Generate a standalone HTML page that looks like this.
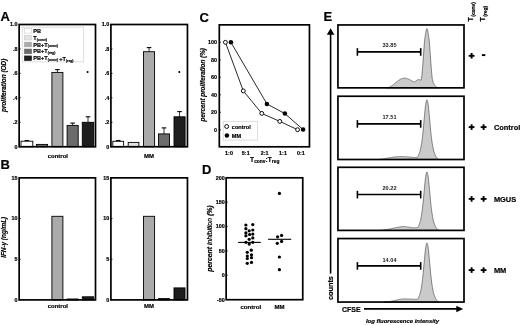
<!DOCTYPE html>
<html><head><meta charset="utf-8"><style>
html,body{margin:0;padding:0;background:#fff;}
svg{display:block;filter:grayscale(1);}
text{font-family:"Liberation Sans",sans-serif;stroke:#000;stroke-width:0.18px;}
</style></head><body>
<svg width="520" height="325" viewBox="0 0 520 325">
<rect width="520" height="325" fill="#fff"/>
<text x="0.5" y="20.5" font-size="13" font-weight="bold" font-style="normal" text-anchor="start" fill="#000" stroke="#000" stroke-width="0.25">A</text>
<text x="0.5" y="169.3" font-size="13" font-weight="bold" font-style="normal" text-anchor="start" fill="#000" stroke="#000" stroke-width="0.25">B</text>
<text x="199.6" y="22.1" font-size="13" font-weight="bold" font-style="normal" text-anchor="start" fill="#000" stroke="#000" stroke-width="0.25">C</text>
<text x="201.9" y="173.6" font-size="13" font-weight="bold" font-style="normal" text-anchor="start" fill="#000" stroke="#000" stroke-width="0.25">D</text>
<text x="323.6" y="20.8" font-size="13" font-weight="bold" font-style="normal" text-anchor="start" fill="#000" stroke="#000" stroke-width="0.25">E</text>
<line x1="26.9" y1="140.6" x2="26.9" y2="141.2" stroke="#333" stroke-width="1.0"/>
<line x1="24.599999999999998" y1="140.6" x2="29.2" y2="140.6" stroke="#000" stroke-width="1.1"/>
<rect x="21.00" y="141.20" width="11.80" height="5.55" fill="#ffffff" stroke="#000" stroke-width="0.9"/>
<rect x="36.40" y="144.40" width="11.20" height="2.35" fill="#707070" stroke="#000" stroke-width="0.9"/>
<line x1="57.4" y1="69.6" x2="57.4" y2="72.4" stroke="#333" stroke-width="1.0"/>
<line x1="55.1" y1="69.6" x2="59.699999999999996" y2="69.6" stroke="#000" stroke-width="1.1"/>
<rect x="51.90" y="72.40" width="11.00" height="74.35" fill="#aaaaaa" stroke="#000" stroke-width="0.9"/>
<line x1="72.65" y1="123.1" x2="72.65" y2="125.4" stroke="#333" stroke-width="1.0"/>
<line x1="70.35000000000001" y1="123.1" x2="74.95" y2="123.1" stroke="#000" stroke-width="1.1"/>
<rect x="67.10" y="125.40" width="11.10" height="21.35" fill="#6c6c6c" stroke="#000" stroke-width="0.9"/>
<line x1="88.0" y1="116.8" x2="88.0" y2="122.3" stroke="#333" stroke-width="1.0"/>
<line x1="85.7" y1="116.8" x2="90.3" y2="116.8" stroke="#000" stroke-width="1.1"/>
<rect x="82.30" y="122.30" width="11.40" height="24.45" fill="#1e1e1e" stroke="#000" stroke-width="0.9"/>
<rect x="19.15" y="24.50" width="76.35" height="122.25" fill="none" stroke="#000" stroke-width="1.7"/>
<line x1="19.15" y1="24.5" x2="20.75" y2="24.5" stroke="#000" stroke-width="0.8"/>
<text x="17.45" y="26.4332" font-size="5.4" font-weight="bold" font-style="normal" text-anchor="end" fill="#000" >1.0</text>
<line x1="19.15" y1="48.95" x2="20.75" y2="48.95" stroke="#000" stroke-width="0.8"/>
<text x="17.45" y="50.8832" font-size="5.4" font-weight="bold" font-style="normal" text-anchor="end" fill="#000" >.8</text>
<line x1="19.15" y1="73.4" x2="20.75" y2="73.4" stroke="#000" stroke-width="0.8"/>
<text x="17.45" y="75.3332" font-size="5.4" font-weight="bold" font-style="normal" text-anchor="end" fill="#000" >.6</text>
<line x1="19.15" y1="97.85" x2="20.75" y2="97.85" stroke="#000" stroke-width="0.8"/>
<text x="17.45" y="99.7832" font-size="5.4" font-weight="bold" font-style="normal" text-anchor="end" fill="#000" >.4</text>
<line x1="19.15" y1="122.3" x2="20.75" y2="122.3" stroke="#000" stroke-width="0.8"/>
<text x="17.45" y="124.2332" font-size="5.4" font-weight="bold" font-style="normal" text-anchor="end" fill="#000" >.2</text>
<line x1="19.15" y1="146.75" x2="20.75" y2="146.75" stroke="#000" stroke-width="0.8"/>
<text x="17.45" y="148.6832" font-size="5.4" font-weight="bold" font-style="normal" text-anchor="end" fill="#000" >0</text>
<text x="57.825" y="157.8" font-size="6.0" font-weight="bold" font-style="normal" text-anchor="middle" fill="#000" >control</text>
<circle cx="87.6" cy="72.0" r="1.05" fill="#000"/>
<line x1="118.19999999999999" y1="140.5" x2="118.19999999999999" y2="141.3" stroke="#333" stroke-width="1.0"/>
<line x1="115.89999999999999" y1="140.5" x2="120.49999999999999" y2="140.5" stroke="#000" stroke-width="1.1"/>
<rect x="112.80" y="141.30" width="10.80" height="5.45" fill="#ffffff" stroke="#000" stroke-width="0.9"/>
<rect x="128.20" y="142.40" width="10.70" height="4.35" fill="#e2e2e2" stroke="#000" stroke-width="0.9"/>
<line x1="149.05" y1="47.6" x2="149.05" y2="51.7" stroke="#333" stroke-width="1.0"/>
<line x1="146.75" y1="47.6" x2="151.35000000000002" y2="47.6" stroke="#000" stroke-width="1.1"/>
<rect x="143.50" y="51.70" width="11.10" height="95.05" fill="#aaaaaa" stroke="#000" stroke-width="0.9"/>
<line x1="164.0" y1="127.9" x2="164.0" y2="133.9" stroke="#333" stroke-width="1.0"/>
<line x1="161.7" y1="127.9" x2="166.3" y2="127.9" stroke="#000" stroke-width="1.1"/>
<rect x="158.50" y="133.90" width="11.00" height="12.85" fill="#6c6c6c" stroke="#000" stroke-width="0.9"/>
<line x1="179.55" y1="111.6" x2="179.55" y2="116.8" stroke="#333" stroke-width="1.0"/>
<line x1="177.25" y1="111.6" x2="181.85000000000002" y2="111.6" stroke="#000" stroke-width="1.1"/>
<rect x="174.00" y="116.80" width="11.10" height="29.95" fill="#1e1e1e" stroke="#000" stroke-width="0.9"/>
<rect x="110.90" y="24.50" width="76.55" height="122.25" fill="none" stroke="#000" stroke-width="1.7"/>
<line x1="110.9" y1="24.5" x2="112.5" y2="24.5" stroke="#000" stroke-width="0.8"/>
<text x="109.2" y="26.4332" font-size="5.4" font-weight="bold" font-style="normal" text-anchor="end" fill="#000" >1.0</text>
<line x1="110.9" y1="48.95" x2="112.5" y2="48.95" stroke="#000" stroke-width="0.8"/>
<text x="109.2" y="50.8832" font-size="5.4" font-weight="bold" font-style="normal" text-anchor="end" fill="#000" >.8</text>
<line x1="110.9" y1="73.4" x2="112.5" y2="73.4" stroke="#000" stroke-width="0.8"/>
<text x="109.2" y="75.3332" font-size="5.4" font-weight="bold" font-style="normal" text-anchor="end" fill="#000" >.6</text>
<line x1="110.9" y1="97.85" x2="112.5" y2="97.85" stroke="#000" stroke-width="0.8"/>
<text x="109.2" y="99.7832" font-size="5.4" font-weight="bold" font-style="normal" text-anchor="end" fill="#000" >.4</text>
<line x1="110.9" y1="122.3" x2="112.5" y2="122.3" stroke="#000" stroke-width="0.8"/>
<text x="109.2" y="124.2332" font-size="5.4" font-weight="bold" font-style="normal" text-anchor="end" fill="#000" >.2</text>
<line x1="110.9" y1="146.75" x2="112.5" y2="146.75" stroke="#000" stroke-width="0.8"/>
<text x="109.2" y="148.6832" font-size="5.4" font-weight="bold" font-style="normal" text-anchor="end" fill="#000" >0</text>
<text x="148.97500000000002" y="157.8" font-size="6.0" font-weight="bold" font-style="normal" text-anchor="middle" fill="#000" >MM</text>
<circle cx="179.3" cy="72.0" r="1.05" fill="#000"/>
<rect x="22.20" y="27.10" width="61.50" height="34.80" fill="#fff" stroke="#cfcfcf" stroke-width="0.7"/>
<rect x="24.30" y="28.30" width="7.40" height="4.80" fill="#ffffff" stroke="#c4c4c4" stroke-width="0.5"/>
<text x="33.3" y="32.70" font-weight="bold" fill="#000"><tspan font-size="5.6">PB</tspan></text>
<rect x="24.30" y="35.20" width="7.40" height="4.80" fill="#e2e2e2" stroke="#c4c4c4" stroke-width="0.5"/>
<text x="33.3" y="39.60" font-weight="bold" fill="#000"><tspan font-size="5.6">T</tspan><tspan font-size="3.4" dy="0.9">(conv)</tspan><tspan dy="-0.9"></tspan></text>
<rect x="24.30" y="42.10" width="7.40" height="4.80" fill="#aaaaaa" stroke="#aaaaaa" stroke-width="0.5"/>
<text x="33.3" y="46.50" font-weight="bold" fill="#000"><tspan font-size="5.6">PB+T</tspan><tspan font-size="3.4" dy="0.9">(conv)</tspan><tspan dy="-0.9"></tspan></text>
<rect x="24.30" y="49.00" width="7.40" height="4.80" fill="#6c6c6c" stroke="#6c6c6c" stroke-width="0.5"/>
<text x="33.3" y="53.40" font-weight="bold" fill="#000"><tspan font-size="5.6">PB+T</tspan><tspan font-size="3.4" dy="0.9">(reg)</tspan><tspan dy="-0.9"></tspan></text>
<rect x="24.30" y="55.90" width="7.40" height="4.80" fill="#1e1e1e" stroke="#1e1e1e" stroke-width="0.5"/>
<text x="33.3" y="60.30" font-weight="bold" fill="#000"><tspan font-size="5.6">PB+T</tspan><tspan font-size="3.4" dy="0.9">(conv)</tspan><tspan dy="-0.9"></tspan><tspan font-size="5.6" dx="1.3">+T</tspan><tspan font-size="3.4" dy="0.9">(reg)</tspan><tspan dy="-0.9"></tspan></text>
<text x="0" y="0" font-size="6.4" font-weight="bold" font-style="italic" text-anchor="middle" fill="#000" textLength="53.5" lengthAdjust="spacingAndGlyphs" transform="translate(5.7,85.3) rotate(-90)">proliferation (OD)</text>
<rect x="51.90" y="216.30" width="11.00" height="83.60" fill="#aaaaaa" stroke="#000" stroke-width="0.9"/>
<rect x="67.10" y="299.00" width="11.10" height="0.90" fill="#6c6c6c" stroke="#000" stroke-width="0.9"/>
<rect x="82.30" y="296.80" width="11.40" height="3.10" fill="#1e1e1e" stroke="#000" stroke-width="0.9"/>
<rect x="19.15" y="177.85" width="76.35" height="122.05" fill="none" stroke="#000" stroke-width="1.7"/>
<line x1="19.15" y1="177.85" x2="20.75" y2="177.85" stroke="#000" stroke-width="0.8"/>
<text x="17.45" y="179.7832" font-size="5.4" font-weight="bold" font-style="normal" text-anchor="end" fill="#000" >15</text>
<line x1="19.15" y1="218.53333333333333" x2="20.75" y2="218.53333333333333" stroke="#000" stroke-width="0.8"/>
<text x="17.45" y="220.46653333333333" font-size="5.4" font-weight="bold" font-style="normal" text-anchor="end" fill="#000" >10</text>
<line x1="19.15" y1="259.21666666666664" x2="20.75" y2="259.21666666666664" stroke="#000" stroke-width="0.8"/>
<text x="17.45" y="261.14986666666664" font-size="5.4" font-weight="bold" font-style="normal" text-anchor="end" fill="#000" >5</text>
<line x1="19.15" y1="299.9" x2="20.75" y2="299.9" stroke="#000" stroke-width="0.8"/>
<text x="17.45" y="301.8332" font-size="5.4" font-weight="bold" font-style="normal" text-anchor="end" fill="#000" >0</text>
<text x="57.825" y="308.35" font-size="6.0" font-weight="bold" font-style="normal" text-anchor="middle" fill="#000" >control</text>
<rect x="143.50" y="216.30" width="11.10" height="83.60" fill="#aaaaaa" stroke="#000" stroke-width="0.9"/>
<rect x="158.50" y="298.60" width="11.00" height="1.30" fill="#6c6c6c" stroke="#000" stroke-width="0.9"/>
<rect x="174.00" y="287.90" width="11.00" height="12.00" fill="#1e1e1e" stroke="#000" stroke-width="0.9"/>
<rect x="110.90" y="177.85" width="76.55" height="122.05" fill="none" stroke="#000" stroke-width="1.7"/>
<line x1="110.9" y1="177.85" x2="112.5" y2="177.85" stroke="#000" stroke-width="0.8"/>
<text x="109.2" y="179.7832" font-size="5.4" font-weight="bold" font-style="normal" text-anchor="end" fill="#000" >15</text>
<line x1="110.9" y1="218.53333333333333" x2="112.5" y2="218.53333333333333" stroke="#000" stroke-width="0.8"/>
<text x="109.2" y="220.46653333333333" font-size="5.4" font-weight="bold" font-style="normal" text-anchor="end" fill="#000" >10</text>
<line x1="110.9" y1="259.21666666666664" x2="112.5" y2="259.21666666666664" stroke="#000" stroke-width="0.8"/>
<text x="109.2" y="261.14986666666664" font-size="5.4" font-weight="bold" font-style="normal" text-anchor="end" fill="#000" >5</text>
<line x1="110.9" y1="299.9" x2="112.5" y2="299.9" stroke="#000" stroke-width="0.8"/>
<text x="109.2" y="301.8332" font-size="5.4" font-weight="bold" font-style="normal" text-anchor="end" fill="#000" >0</text>
<text x="148.97500000000002" y="308.35" font-size="6.0" font-weight="bold" font-style="normal" text-anchor="middle" fill="#000" >MM</text>
<text x="0" y="0" font-size="6.4" font-weight="bold" font-style="italic" text-anchor="middle" fill="#000" textLength="41" lengthAdjust="spacingAndGlyphs" transform="translate(5.6,237.3) rotate(-90)">IFN-γ (ng/mL)</text>
<rect x="219.30" y="24.85" width="90.15" height="121.95" fill="none" stroke="#000" stroke-width="1.7"/>
<line x1="219.3" y1="42.30000000000001" x2="220.9" y2="42.30000000000001" stroke="#000" stroke-width="0.8"/>
<text x="216.9" y="44.23320000000001" font-size="5.4" font-weight="bold" font-style="normal" text-anchor="end" fill="#000" >100</text>
<line x1="219.3" y1="59.80000000000001" x2="220.9" y2="59.80000000000001" stroke="#000" stroke-width="0.8"/>
<text x="216.9" y="61.73320000000001" font-size="5.4" font-weight="bold" font-style="normal" text-anchor="end" fill="#000" >80</text>
<line x1="219.3" y1="77.30000000000001" x2="220.9" y2="77.30000000000001" stroke="#000" stroke-width="0.8"/>
<text x="216.9" y="79.23320000000001" font-size="5.4" font-weight="bold" font-style="normal" text-anchor="end" fill="#000" >60</text>
<line x1="219.3" y1="94.80000000000001" x2="220.9" y2="94.80000000000001" stroke="#000" stroke-width="0.8"/>
<text x="216.9" y="96.73320000000001" font-size="5.4" font-weight="bold" font-style="normal" text-anchor="end" fill="#000" >40</text>
<line x1="219.3" y1="112.30000000000001" x2="220.9" y2="112.30000000000001" stroke="#000" stroke-width="0.8"/>
<text x="216.9" y="114.23320000000001" font-size="5.4" font-weight="bold" font-style="normal" text-anchor="end" fill="#000" >20</text>
<line x1="219.3" y1="129.8" x2="220.9" y2="129.8" stroke="#000" stroke-width="0.8"/>
<text x="216.9" y="131.7332" font-size="5.4" font-weight="bold" font-style="normal" text-anchor="end" fill="#000" >0</text>
<text x="229.0" y="154.6332" font-size="5.4" font-weight="bold" font-style="normal" text-anchor="middle" fill="#000" >1:0</text>
<text x="245.75" y="154.6332" font-size="5.4" font-weight="bold" font-style="normal" text-anchor="middle" fill="#000" >5:1</text>
<text x="264.55" y="154.6332" font-size="5.4" font-weight="bold" font-style="normal" text-anchor="middle" fill="#000" >2:1</text>
<text x="283.0" y="154.6332" font-size="5.4" font-weight="bold" font-style="normal" text-anchor="middle" fill="#000" >1:1</text>
<text x="300.8" y="154.6332" font-size="5.4" font-weight="bold" font-style="normal" text-anchor="middle" fill="#000" >0:1</text>
<polyline points="225.4,42.3 243.3,90.9 261.8,113.4 279.8,121.4 297.6,129.7" fill="none" stroke="#111" stroke-width="0.9"/>
<polyline points="230.9,42.3 266.9,103.9 284.9,113.6 303.1,129.6" fill="none" stroke="#111" stroke-width="0.9"/>
<circle cx="225.4" cy="42.3" r="1.95" fill="#fff" stroke="#000" stroke-width="0.95"/>
<circle cx="243.3" cy="90.9" r="1.95" fill="#fff" stroke="#000" stroke-width="0.95"/>
<circle cx="261.8" cy="113.4" r="1.95" fill="#fff" stroke="#000" stroke-width="0.95"/>
<circle cx="279.8" cy="121.4" r="1.95" fill="#fff" stroke="#000" stroke-width="0.95"/>
<circle cx="297.6" cy="129.7" r="1.95" fill="#fff" stroke="#000" stroke-width="0.95"/>
<circle cx="230.9" cy="42.3" r="2.25" fill="#000"/>
<circle cx="266.9" cy="103.9" r="2.25" fill="#000"/>
<circle cx="284.9" cy="113.6" r="2.25" fill="#000"/>
<circle cx="303.1" cy="129.6" r="2.25" fill="#000"/>
<rect x="223.20" y="121.30" width="34.20" height="18.80" fill="#fff" stroke="#cfcfcf" stroke-width="0.7"/>
<circle cx="226.7" cy="126.5" r="1.95" fill="#fff" stroke="#000" stroke-width="0.95"/>
<circle cx="226.9" cy="135.5" r="2.25" fill="#000"/>
<text x="231.8" y="128.5" font-size="5.6" font-weight="bold" font-style="normal" text-anchor="start" fill="#000" >control</text>
<text x="231.8" y="137.5" font-size="5.6" font-weight="bold" font-style="normal" text-anchor="start" fill="#000" >MM</text>
<text x="250.1" y="162.2" font-weight="bold" font-size="6.6">T<tspan font-size="4.9" dy="0.9">conv</tspan><tspan dy="-0.9">:T</tspan><tspan font-size="4.9" dy="0.9">reg</tspan></text>
<text x="0" y="0" font-size="6.3" font-weight="bold" font-style="italic" text-anchor="middle" fill="#000" textLength="73.3" lengthAdjust="spacingAndGlyphs" transform="translate(205.2,84.75) rotate(-90)">percent proliferation (%)</text>
<rect x="226.15" y="177.80" width="76.60" height="121.90" fill="none" stroke="#000" stroke-width="1.7"/>
<line x1="226.15" y1="177.8" x2="227.75" y2="177.8" stroke="#000" stroke-width="0.8"/>
<text x="224.75" y="179.7332" font-size="5.4" font-weight="bold" font-style="normal" text-anchor="end" fill="#000" >200</text>
<line x1="226.15" y1="202.175" x2="227.75" y2="202.175" stroke="#000" stroke-width="0.8"/>
<text x="224.75" y="204.1082" font-size="5.4" font-weight="bold" font-style="normal" text-anchor="end" fill="#000" >150</text>
<line x1="226.15" y1="226.55" x2="227.75" y2="226.55" stroke="#000" stroke-width="0.8"/>
<text x="224.75" y="228.4832" font-size="5.4" font-weight="bold" font-style="normal" text-anchor="end" fill="#000" >100</text>
<line x1="226.15" y1="250.925" x2="227.75" y2="250.925" stroke="#000" stroke-width="0.8"/>
<text x="224.75" y="252.8582" font-size="5.4" font-weight="bold" font-style="normal" text-anchor="end" fill="#000" >50</text>
<line x1="226.15" y1="275.3" x2="227.75" y2="275.3" stroke="#000" stroke-width="0.8"/>
<text x="224.75" y="277.2332" font-size="5.4" font-weight="bold" font-style="normal" text-anchor="end" fill="#000" >0</text>
<line x1="226.15" y1="299.675" x2="227.75" y2="299.675" stroke="#000" stroke-width="0.8"/>
<text x="224.75" y="301.6082" font-size="5.4" font-weight="bold" font-style="normal" text-anchor="end" fill="#000" >-50</text>
<text x="250.8" y="308.55" font-size="6.1" font-weight="bold" font-style="normal" text-anchor="middle" fill="#000" >control</text>
<text x="279.45" y="308.55" font-size="6.0" font-weight="bold" font-style="normal" text-anchor="middle" fill="#000" >MM</text>
<text font-size="6.3" font-style="italic" text-anchor="middle" textLength="66.3" lengthAdjust="spacingAndGlyphs" transform="translate(212.2,238.6) rotate(-90)"><tspan font-weight="bold">percent </tspan><tspan font-weight="normal"> inhibition </tspan><tspan font-weight="bold">(%)</tspan></text>
<circle cx="245.9" cy="225.0" r="1.62" fill="#000"/>
<circle cx="252.8" cy="224.6" r="1.62" fill="#000"/>
<circle cx="245.9" cy="228.7" r="1.62" fill="#000"/>
<circle cx="252.8" cy="230.0" r="1.62" fill="#000"/>
<circle cx="249.2" cy="230.8" r="1.62" fill="#000"/>
<circle cx="245.9" cy="232.9" r="1.62" fill="#000"/>
<circle cx="249.6" cy="234.5" r="1.62" fill="#000"/>
<circle cx="252.8" cy="234.1" r="1.62" fill="#000"/>
<circle cx="245.9" cy="235.8" r="1.62" fill="#000"/>
<circle cx="252.8" cy="237.9" r="1.62" fill="#000"/>
<circle cx="249.2" cy="239.3" r="1.62" fill="#000"/>
<circle cx="245.9" cy="242.3" r="1.62" fill="#000"/>
<circle cx="249.2" cy="244.1" r="1.62" fill="#000"/>
<circle cx="252.8" cy="242.3" r="1.62" fill="#000"/>
<circle cx="251.3" cy="250.2" r="1.62" fill="#000"/>
<circle cx="247.3" cy="252.3" r="1.62" fill="#000"/>
<circle cx="247.3" cy="256.0" r="1.62" fill="#000"/>
<circle cx="251.5" cy="254.8" r="1.62" fill="#000"/>
<circle cx="247.3" cy="258.5" r="1.62" fill="#000"/>
<circle cx="251.5" cy="257.7" r="1.62" fill="#000"/>
<circle cx="247.3" cy="263.3" r="1.62" fill="#000"/>
<circle cx="251.5" cy="262.4" r="1.62" fill="#000"/>
<circle cx="279.4" cy="193.4" r="1.62" fill="#000"/>
<circle cx="277.6" cy="236.8" r="1.62" fill="#000"/>
<circle cx="281.6" cy="235.4" r="1.62" fill="#000"/>
<circle cx="277.3" cy="243.3" r="1.62" fill="#000"/>
<circle cx="281.6" cy="241.4" r="1.62" fill="#000"/>
<circle cx="279.4" cy="257.0" r="1.62" fill="#000"/>
<circle cx="279.4" cy="269.7" r="1.62" fill="#000"/>
<line x1="238.1" y1="242.4" x2="260.8" y2="242.4" stroke="#000" stroke-width="1.1"/>
<line x1="268.1" y1="239.3" x2="291.2" y2="239.3" stroke="#000" stroke-width="1.1"/>
<path d="M386,87.85 L386.00,87.85 L386.25,87.82 L386.50,87.79 L386.75,87.76 L387.00,87.73 L387.25,87.70 L387.50,87.67 L387.75,87.64 L388.00,87.61 L388.25,87.58 L388.50,87.55 L388.75,87.43 L389.00,87.31 L389.25,87.19 L389.50,87.07 L389.75,86.95 L390.00,86.83 L390.25,86.71 L390.50,86.59 L390.75,86.47 L391.00,86.35 L391.25,86.17 L391.50,85.99 L391.75,85.81 L392.00,85.64 L392.25,85.46 L392.50,85.28 L392.75,85.10 L393.00,84.92 L393.25,84.72 L393.50,84.51 L393.75,84.29 L394.00,84.07 L394.25,83.86 L394.50,83.64 L394.75,83.43 L395.00,83.21 L395.25,83.00 L395.50,82.78 L395.75,82.57 L396.00,82.35 L396.25,82.16 L396.50,81.97 L396.75,81.77 L397.00,81.58 L397.25,81.39 L397.50,81.20 L397.75,81.01 L398.00,80.82 L398.25,80.62 L398.50,80.43 L398.75,80.24 L399.00,80.05 L399.25,79.92 L399.50,79.80 L399.75,79.67 L400.00,79.55 L400.25,79.42 L400.50,79.30 L400.75,79.17 L401.00,79.05 L401.25,78.92 L401.50,78.80 L401.75,78.67 L402.00,78.55 L402.25,78.49 L402.50,78.42 L402.75,78.36 L403.00,78.30 L403.25,78.24 L403.50,78.17 L403.75,78.11 L404.00,78.05 L404.25,78.07 L404.50,78.09 L404.75,78.12 L405.00,78.14 L405.25,78.16 L405.50,78.18 L405.75,78.20 L406.00,78.22 L406.25,78.25 L406.50,78.32 L406.75,78.41 L407.00,78.50 L407.25,78.60 L407.50,78.69 L407.75,78.78 L408.00,78.87 L408.25,78.96 L408.50,79.05 L408.75,79.18 L409.00,79.31 L409.25,79.44 L409.50,79.57 L409.75,79.70 L410.00,79.83 L410.25,79.96 L410.50,80.09 L410.75,80.22 L411.00,80.35 L411.25,80.50 L411.50,80.65 L411.75,80.80 L412.00,80.95 L412.25,81.10 L412.50,81.25 L412.75,81.40 L413.00,81.55 L413.25,81.62 L413.50,81.69 L413.75,81.76 L414.00,81.84 L414.25,81.91 L414.50,81.89 L414.75,81.75 L415.00,81.61 L415.25,81.47 L415.50,81.33 L415.75,81.19 L416.00,81.05 L416.25,80.82 L416.50,80.59 L416.75,80.36 L417.00,80.13 L417.25,79.90 L417.50,79.83 L417.75,79.80 L418.00,79.77 L418.25,79.74 L418.50,79.71 L418.75,79.68 L419.00,79.65 L419.25,79.67 L419.50,79.69 L419.75,79.71 L420.00,79.73 L420.25,79.79 L420.50,79.97 L420.75,80.16 L421.00,80.35 L421.25,79.94 L421.50,78.79 L421.75,76.83 L422.00,74.35 L422.25,71.77 L422.50,68.79 L422.75,65.82 L423.00,62.54 L423.25,58.82 L423.50,55.10 L423.75,51.46 L424.00,48.15 L424.25,44.84 L424.50,41.53 L424.75,39.19 L425.00,37.49 L425.25,35.79 L425.50,34.25 L425.75,32.77 L426.00,31.28 L426.25,30.24 L426.50,29.49 L426.75,28.75 L427.00,28.60 L427.25,29.34 L427.50,30.09 L427.75,30.98 L428.00,32.47 L428.25,33.96 L428.50,35.45 L428.75,37.15 L429.00,38.85 L429.25,40.87 L429.50,44.18 L429.75,47.49 L430.00,50.80 L430.25,54.35 L430.50,58.08 L430.75,61.80 L431.00,65.22 L431.25,68.20 L431.50,71.18 L431.75,73.86 L432.00,76.34 L432.25,78.55 L432.50,79.71 L432.75,80.87 L433.00,82.03 L433.25,82.78 L433.50,83.26 L433.75,83.73 L434.00,84.21 L434.25,84.69 L434.50,85.17 L434.75,85.43 L435.00,85.69 L435.25,85.95 L435.50,86.20 L435.75,86.46 L436.00,86.72 L436.25,86.98 L436.50,87.18 L436.75,87.30 L437.00,87.42 L437.25,87.54 L437.50,87.66 L437.75,87.78 L438.00,87.85 L438.25,87.85 L438.50,87.85 L438.75,87.85 L439.00,87.85 L439.25,87.85 L439.25,87.85 Z" fill="#cacaca" stroke="#5e5e5e" stroke-width="0.75" stroke-linejoin="round"/>
<rect x="337.95" y="24.95" width="126.05" height="62.90" fill="none" stroke="#000" stroke-width="1.7"/>
<line x1="357.4" y1="51.85" x2="420.7" y2="51.85" stroke="#000" stroke-width="1.7"/>
<line x1="357.4" y1="48.15" x2="357.4" y2="55.75" stroke="#000" stroke-width="1.6"/>
<line x1="420.7" y1="48.15" x2="420.7" y2="55.75" stroke="#000" stroke-width="1.6"/>
<text x="389.5" y="47.4" font-size="5.6" font-weight="bold" font-style="normal" text-anchor="middle" fill="#222" style="stroke:none">33.85</text>
<rect x="468.70" y="54.85" width="5.8" height="1.9" fill="#000"/>
<rect x="470.65" y="53.00" width="1.9" height="5.6" fill="#000"/>
<rect x="481.90" y="54.15" width="3.4" height="1.9" fill="#000"/>
<path d="M378,159.5 L378.00,159.50 L378.25,159.47 L378.50,159.45 L378.75,159.43 L379.00,159.40 L379.25,159.38 L379.50,159.35 L379.75,159.32 L380.00,159.30 L380.25,159.28 L380.50,159.25 L380.75,159.22 L381.00,159.20 L381.25,159.18 L381.50,159.15 L381.75,159.12 L382.00,159.10 L382.25,159.05 L382.50,159.01 L382.75,158.96 L383.00,158.92 L383.25,158.87 L383.50,158.82 L383.75,158.78 L384.00,158.73 L384.25,158.69 L384.50,158.64 L384.75,158.60 L385.00,158.55 L385.25,158.50 L385.50,158.46 L385.75,158.41 L386.00,158.37 L386.25,158.32 L386.50,158.28 L386.75,158.23 L387.00,158.18 L387.25,158.14 L387.50,158.09 L387.75,158.05 L388.00,158.00 L388.25,157.96 L388.50,157.92 L388.75,157.88 L389.00,157.83 L389.25,157.79 L389.50,157.75 L389.75,157.71 L390.00,157.67 L390.25,157.62 L390.50,157.58 L390.75,157.54 L391.00,157.50 L391.25,157.46 L391.50,157.42 L391.75,157.38 L392.00,157.33 L392.25,157.29 L392.50,157.25 L392.75,157.21 L393.00,157.17 L393.25,157.12 L393.50,157.08 L393.75,157.04 L394.00,157.00 L394.25,156.98 L394.50,156.96 L394.75,156.94 L395.00,156.92 L395.25,156.90 L395.50,156.88 L395.75,156.85 L396.00,156.83 L396.25,156.81 L396.50,156.79 L396.75,156.77 L397.00,156.75 L397.25,156.73 L397.50,156.71 L397.75,156.69 L398.00,156.67 L398.25,156.65 L398.50,156.62 L398.75,156.60 L399.00,156.58 L399.25,156.56 L399.50,156.54 L399.75,156.52 L400.00,156.50 L400.25,156.51 L400.50,156.52 L400.75,156.53 L401.00,156.53 L401.25,156.54 L401.50,156.55 L401.75,156.56 L402.00,156.57 L402.25,156.57 L402.50,156.58 L402.75,156.59 L403.00,156.60 L403.25,156.61 L403.50,156.62 L403.75,156.62 L404.00,156.63 L404.25,156.64 L404.50,156.65 L404.75,156.66 L405.00,156.67 L405.25,156.68 L405.50,156.68 L405.75,156.69 L406.00,156.70 L406.25,156.72 L406.50,156.75 L406.75,156.78 L407.00,156.80 L407.25,156.82 L407.50,156.85 L407.75,156.88 L408.00,156.90 L408.25,156.93 L408.50,156.95 L408.75,156.97 L409.00,157.00 L409.25,157.03 L409.50,157.05 L409.75,157.07 L410.00,157.10 L410.25,157.12 L410.50,157.15 L410.75,157.18 L411.00,157.20 L411.25,157.22 L411.50,157.25 L411.75,157.28 L412.00,157.30 L412.25,157.31 L412.50,157.32 L412.75,157.34 L413.00,157.35 L413.25,157.36 L413.50,157.38 L413.75,157.39 L414.00,157.40 L414.25,157.41 L414.50,157.43 L414.75,157.44 L415.00,157.45 L415.25,157.46 L415.50,157.47 L415.75,157.49 L416.00,157.50 L416.25,157.50 L416.50,157.50 L416.75,157.50 L417.00,157.50 L417.25,157.44 L417.50,157.04 L417.75,156.64 L418.00,156.23 L418.25,155.83 L418.50,155.33 L418.75,154.68 L419.00,154.03 L419.25,153.38 L419.50,152.73 L419.75,152.08 L420.00,151.27 L420.25,150.21 L420.50,149.16 L420.75,148.11 L421.00,146.88 L421.25,145.38 L421.50,143.87 L421.75,142.37 L422.00,140.67 L422.25,138.67 L422.50,136.66 L422.75,134.66 L423.00,132.15 L423.25,129.53 L423.50,126.90 L423.75,124.15 L424.00,121.34 L424.25,118.52 L424.50,115.76 L424.75,113.09 L425.00,110.42 L425.25,107.75 L425.50,105.86 L425.75,104.17 L426.00,102.48 L426.25,101.35 L426.50,100.60 L426.75,99.85 L427.00,99.70 L427.25,100.45 L427.50,101.20 L427.75,102.14 L428.00,103.83 L428.25,105.52 L428.50,107.21 L428.75,109.88 L429.00,112.56 L429.25,115.23 L429.50,117.96 L429.75,120.77 L430.00,123.59 L430.25,126.37 L430.50,129.00 L430.75,131.63 L431.00,134.26 L431.25,136.26 L431.50,138.26 L431.75,140.27 L432.00,142.07 L432.25,143.57 L432.50,145.08 L432.75,146.58 L433.00,147.90 L433.25,148.95 L433.50,150.00 L433.75,151.06 L434.00,151.95 L434.25,152.60 L434.50,153.25 L434.75,153.90 L435.00,154.55 L435.25,155.20 L435.50,155.75 L435.75,156.15 L436.00,156.56 L436.25,156.96 L436.50,157.36 L436.75,157.76 L437.00,158.07 L437.25,158.26 L437.50,158.45 L437.75,158.64 L438.00,158.82 L438.25,159.01 L438.50,159.20 L438.75,159.39 L439.00,159.50 L439.25,159.50 L439.25,159.5 Z" fill="#cacaca" stroke="#5e5e5e" stroke-width="0.75" stroke-linejoin="round"/>
<rect x="337.95" y="96.25" width="126.05" height="63.25" fill="none" stroke="#000" stroke-width="1.7"/>
<line x1="357.4" y1="123.8" x2="420.7" y2="123.8" stroke="#000" stroke-width="1.7"/>
<line x1="357.4" y1="120.1" x2="357.4" y2="127.7" stroke="#000" stroke-width="1.6"/>
<line x1="420.7" y1="120.1" x2="420.7" y2="127.7" stroke="#000" stroke-width="1.6"/>
<text x="389.5" y="119.2" font-size="5.6" font-weight="bold" font-style="normal" text-anchor="middle" fill="#222" style="stroke:none">17.51</text>
<rect x="468.70" y="126.15" width="5.8" height="1.9" fill="#000"/>
<rect x="470.65" y="124.30" width="1.9" height="5.6" fill="#000"/>
<rect x="480.70" y="126.15" width="5.8" height="1.9" fill="#000"/>
<rect x="482.65" y="124.30" width="1.9" height="5.6" fill="#000"/>
<text x="493.9" y="129.75" font-size="7.45" font-weight="bold" font-style="normal" text-anchor="start" fill="#000" >Control</text>
<path d="M380,230.4 L380.00,230.40 L380.25,230.38 L380.50,230.35 L380.75,230.33 L381.00,230.30 L381.25,230.28 L381.50,230.25 L381.75,230.22 L382.00,230.20 L382.25,230.18 L382.50,230.15 L382.75,230.12 L383.00,230.10 L383.25,230.08 L383.50,230.05 L383.75,230.03 L384.00,230.00 L384.25,229.95 L384.50,229.91 L384.75,229.86 L385.00,229.82 L385.25,229.77 L385.50,229.72 L385.75,229.68 L386.00,229.63 L386.25,229.59 L386.50,229.54 L386.75,229.50 L387.00,229.45 L387.25,229.40 L387.50,229.36 L387.75,229.31 L388.00,229.27 L388.25,229.22 L388.50,229.18 L388.75,229.13 L389.00,229.08 L389.25,229.04 L389.50,228.99 L389.75,228.95 L390.00,228.90 L390.25,228.85 L390.50,228.79 L390.75,228.74 L391.00,228.68 L391.25,228.63 L391.50,228.58 L391.75,228.52 L392.00,228.47 L392.25,228.41 L392.50,228.36 L392.75,228.30 L393.00,228.25 L393.25,228.20 L393.50,228.14 L393.75,228.09 L394.00,228.03 L394.25,227.98 L394.50,227.93 L394.75,227.87 L395.00,227.82 L395.25,227.76 L395.50,227.71 L395.75,227.65 L396.00,227.60 L396.25,227.56 L396.50,227.51 L396.75,227.47 L397.00,227.43 L397.25,227.39 L397.50,227.34 L397.75,227.30 L398.00,227.26 L398.25,227.21 L398.50,227.17 L398.75,227.13 L399.00,227.09 L399.25,227.04 L399.50,227.00 L399.75,226.96 L400.00,226.91 L400.25,226.87 L400.50,226.83 L400.75,226.79 L401.00,226.74 L401.25,226.70 L401.50,226.66 L401.75,226.61 L402.00,226.57 L402.25,226.53 L402.50,226.49 L402.75,226.44 L403.00,226.40 L403.25,226.43 L403.50,226.46 L403.75,226.49 L404.00,226.52 L404.25,226.55 L404.50,226.58 L404.75,226.61 L405.00,226.64 L405.25,226.67 L405.50,226.70 L405.75,226.73 L406.00,226.76 L406.25,226.79 L406.50,226.82 L406.75,226.85 L407.00,226.88 L407.25,226.91 L407.50,226.94 L407.75,226.97 L408.00,227.00 L408.25,227.04 L408.50,227.08 L408.75,227.12 L409.00,227.16 L409.25,227.20 L409.50,227.24 L409.75,227.28 L410.00,227.32 L410.25,227.36 L410.50,227.40 L410.75,227.44 L411.00,227.48 L411.25,227.52 L411.50,227.56 L411.75,227.60 L412.00,227.64 L412.25,227.68 L412.50,227.72 L412.75,227.76 L413.00,227.80 L413.25,227.79 L413.50,227.78 L413.75,227.76 L414.00,227.75 L414.25,227.74 L414.50,227.72 L414.75,227.71 L415.00,227.70 L415.25,227.69 L415.50,227.68 L415.75,227.66 L416.00,227.65 L416.25,227.64 L416.50,227.62 L416.75,227.61 L417.00,227.60 L417.25,227.57 L417.50,227.53 L417.75,227.50 L418.00,227.21 L418.25,226.81 L418.50,226.32 L418.75,225.69 L419.00,225.05 L419.25,224.41 L419.50,223.78 L419.75,223.14 L420.00,222.34 L420.25,221.32 L420.50,220.29 L420.75,219.26 L421.00,218.05 L421.25,216.58 L421.50,215.11 L421.75,213.64 L422.00,211.98 L422.25,210.02 L422.50,208.06 L422.75,206.10 L423.00,203.65 L423.25,201.07 L423.50,198.50 L423.75,195.82 L424.00,193.06 L424.25,190.31 L424.50,187.61 L424.75,184.99 L425.00,182.38 L425.25,179.77 L425.50,177.92 L425.75,176.27 L426.00,174.61 L426.25,173.51 L426.50,172.78 L426.75,172.04 L427.00,171.89 L427.25,172.63 L427.50,173.36 L427.75,174.28 L428.00,175.94 L428.25,177.59 L428.50,179.24 L428.75,181.86 L429.00,184.47 L429.25,187.08 L429.50,189.75 L429.75,192.51 L430.00,195.27 L430.25,197.99 L430.50,200.56 L430.75,203.13 L431.00,205.70 L431.25,207.66 L431.50,209.62 L431.75,211.58 L432.00,213.35 L432.25,214.82 L432.50,216.29 L432.75,217.76 L433.00,219.05 L433.25,220.08 L433.50,221.11 L433.75,222.14 L434.00,223.01 L434.25,223.65 L434.50,224.28 L434.75,224.92 L435.00,225.56 L435.25,226.20 L435.50,226.73 L435.75,227.13 L436.00,227.52 L436.25,227.91 L436.50,228.30 L436.75,228.69 L437.00,229.00 L437.25,229.19 L437.50,229.37 L437.75,229.55 L438.00,229.74 L438.25,229.92 L438.50,230.11 L438.75,230.29 L439.00,230.40 L439.25,230.40 L439.25,230.4 Z" fill="#cacaca" stroke="#5e5e5e" stroke-width="0.75" stroke-linejoin="round"/>
<rect x="337.95" y="167.30" width="126.05" height="63.10" fill="none" stroke="#000" stroke-width="1.7"/>
<line x1="357.4" y1="194.5" x2="420.7" y2="194.5" stroke="#000" stroke-width="1.7"/>
<line x1="357.4" y1="190.8" x2="357.4" y2="198.4" stroke="#000" stroke-width="1.6"/>
<line x1="420.7" y1="190.8" x2="420.7" y2="198.4" stroke="#000" stroke-width="1.6"/>
<text x="389.5" y="190.0" font-size="5.6" font-weight="bold" font-style="normal" text-anchor="middle" fill="#222" style="stroke:none">20.22</text>
<rect x="468.70" y="197.95" width="5.8" height="1.9" fill="#000"/>
<rect x="470.65" y="196.10" width="1.9" height="5.6" fill="#000"/>
<rect x="480.70" y="197.95" width="5.8" height="1.9" fill="#000"/>
<rect x="482.65" y="196.10" width="1.9" height="5.6" fill="#000"/>
<text x="493.9" y="201.55" font-size="7.45" font-weight="bold" font-style="normal" text-anchor="start" fill="#000" >MGUS</text>
<path d="M384,302.05 L384.00,302.05 L384.25,302.03 L384.50,302.02 L384.75,302.00 L385.00,301.98 L385.25,301.97 L385.50,301.95 L385.75,301.93 L386.00,301.92 L386.25,301.90 L386.50,301.88 L386.75,301.87 L387.00,301.85 L387.25,301.83 L387.50,301.82 L387.75,301.80 L388.00,301.78 L388.25,301.77 L388.50,301.75 L388.75,301.70 L389.00,301.65 L389.25,301.60 L389.50,301.55 L389.75,301.50 L390.00,301.45 L390.25,301.40 L390.50,301.35 L390.75,301.30 L391.00,301.25 L391.25,301.20 L391.50,301.15 L391.75,301.10 L392.00,301.05 L392.25,301.00 L392.50,300.95 L392.75,300.90 L393.00,300.85 L393.25,300.80 L393.50,300.75 L393.75,300.70 L394.00,300.65 L394.25,300.59 L394.50,300.53 L394.75,300.47 L395.00,300.41 L395.25,300.35 L395.50,300.29 L395.75,300.23 L396.00,300.17 L396.25,300.11 L396.50,300.05 L396.75,299.99 L397.00,299.93 L397.25,299.87 L397.50,299.81 L397.75,299.75 L398.00,299.69 L398.25,299.63 L398.50,299.57 L398.75,299.51 L399.00,299.45 L399.25,299.42 L399.50,299.39 L399.75,299.36 L400.00,299.33 L400.25,299.30 L400.50,299.27 L400.75,299.24 L401.00,299.21 L401.25,299.18 L401.50,299.15 L401.75,299.12 L402.00,299.09 L402.25,299.06 L402.50,299.03 L402.75,299.00 L403.00,298.97 L403.25,298.94 L403.50,298.91 L403.75,298.88 L404.00,298.85 L404.25,298.86 L404.50,298.87 L404.75,298.88 L405.00,298.88 L405.25,298.89 L405.50,298.90 L405.75,298.91 L406.00,298.92 L406.25,298.93 L406.50,298.93 L406.75,298.94 L407.00,298.95 L407.25,298.96 L407.50,298.97 L407.75,298.98 L408.00,298.98 L408.25,298.99 L408.50,299.00 L408.75,299.01 L409.00,299.02 L409.25,299.03 L409.50,299.03 L409.75,299.04 L410.00,299.05 L410.25,299.06 L410.50,299.07 L410.75,299.09 L411.00,299.10 L411.25,299.11 L411.50,299.12 L411.75,299.14 L412.00,299.15 L412.25,299.16 L412.50,299.18 L412.75,299.19 L413.00,299.20 L413.25,299.21 L413.50,299.23 L413.75,299.24 L414.00,299.25 L414.25,299.26 L414.50,299.28 L414.75,299.29 L415.00,299.30 L415.25,299.31 L415.50,299.32 L415.75,299.34 L416.00,299.35 L416.25,299.34 L416.50,299.34 L416.75,299.33 L417.00,299.32 L417.25,299.32 L417.50,299.31 L417.75,299.22 L418.00,298.82 L418.25,298.42 L418.50,297.93 L418.75,297.28 L419.00,296.64 L419.25,296.00 L419.50,295.35 L419.75,294.71 L420.00,293.91 L420.25,292.86 L420.50,291.82 L420.75,290.78 L421.00,289.57 L421.25,288.08 L421.50,286.59 L421.75,285.11 L422.00,283.42 L422.25,281.44 L422.50,279.46 L422.75,277.48 L423.00,275.00 L423.25,272.40 L423.50,269.80 L423.75,267.09 L424.00,264.30 L424.25,261.51 L424.50,258.78 L424.75,256.14 L425.00,253.50 L425.25,250.86 L425.50,248.99 L425.75,247.32 L426.00,245.65 L426.25,244.53 L426.50,243.79 L426.75,243.05 L427.00,242.90 L427.25,243.64 L427.50,244.38 L427.75,245.31 L428.00,246.98 L428.25,248.66 L428.50,250.33 L428.75,252.97 L429.00,255.61 L429.25,258.26 L429.50,260.96 L429.75,263.74 L430.00,266.53 L430.25,269.28 L430.50,271.88 L430.75,274.48 L431.00,277.08 L431.25,279.06 L431.50,281.04 L431.75,283.03 L432.00,284.81 L432.25,286.30 L432.50,287.78 L432.75,289.27 L433.00,290.58 L433.25,291.62 L433.50,292.66 L433.75,293.70 L434.00,294.58 L434.25,295.22 L434.50,295.87 L434.75,296.51 L435.00,297.16 L435.25,297.80 L435.50,298.34 L435.75,298.74 L436.00,299.14 L436.25,299.53 L436.50,299.93 L436.75,300.33 L437.00,300.64 L437.25,300.82 L437.50,301.01 L437.75,301.20 L438.00,301.38 L438.25,301.57 L438.50,301.75 L438.75,301.94 L439.00,302.05 L439.25,302.05 L439.25,302.05 Z" fill="#cacaca" stroke="#5e5e5e" stroke-width="0.75" stroke-linejoin="round"/>
<rect x="337.95" y="238.55" width="126.05" height="63.50" fill="none" stroke="#000" stroke-width="1.7"/>
<line x1="357.4" y1="265.85" x2="420.7" y2="265.85" stroke="#000" stroke-width="1.7"/>
<line x1="357.4" y1="262.15000000000003" x2="357.4" y2="269.75" stroke="#000" stroke-width="1.6"/>
<line x1="420.7" y1="262.15000000000003" x2="420.7" y2="269.75" stroke="#000" stroke-width="1.6"/>
<text x="389.5" y="261.6" font-size="5.6" font-weight="bold" font-style="normal" text-anchor="middle" fill="#222" style="stroke:none">14.04</text>
<rect x="468.70" y="269.15" width="5.8" height="1.9" fill="#000"/>
<rect x="470.65" y="267.30" width="1.9" height="5.6" fill="#000"/>
<rect x="480.70" y="269.15" width="5.8" height="1.9" fill="#000"/>
<rect x="482.65" y="267.30" width="1.9" height="5.6" fill="#000"/>
<text x="493.9" y="272.75" font-size="7.45" font-weight="bold" font-style="normal" text-anchor="start" fill="#000" >MM</text>
<line x1="330.6" y1="33" x2="330.6" y2="273.6" stroke="#000" stroke-width="1.6"/>
<polygon points="330.6,28.2 326.8,34.8 334.4,34.8" fill="#000"/>
<text x="0" y="0" font-size="7.3" font-weight="bold" font-style="normal" text-anchor="middle" fill="#000" transform="translate(333.3,288.1) rotate(-90)">counts</text>
<line x1="364.0" y1="308.9" x2="457" y2="308.9" stroke="#000" stroke-width="1.7"/>
<polygon points="463.2,308.9 456.3,305.8 456.3,312.2" fill="#000"/>
<text x="341.9" y="311.85" font-size="7.0" font-weight="bold" font-style="normal" text-anchor="start" fill="#000" >CFSE</text>
<text x="365.9" y="323.3" font-size="5.95" font-weight="bold" font-style="italic" text-anchor="start" fill="#000" >log fluorescence intensity</text>
<text font-weight="bold" transform="translate(473.3,21.4) rotate(-90)"><tspan font-size="7.0">T</tspan><tspan font-size="4.9" dx="0.4" dy="1.6">(conv)</tspan></text>
<text font-weight="bold" transform="translate(485.1,21.4) rotate(-90)"><tspan font-size="7.0">T</tspan><tspan font-size="4.9" dx="0.4" dy="1.6">(reg)</tspan></text>
</svg>
</body></html>
